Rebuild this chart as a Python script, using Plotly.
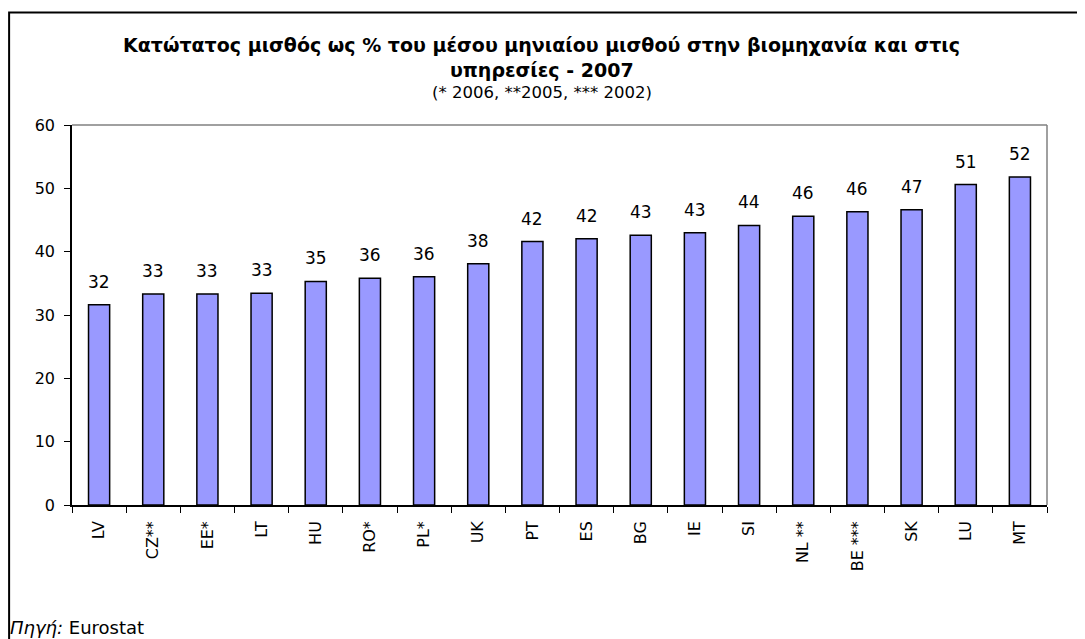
import plotly.graph_objects as go

countries = ['LV', 'CZ**', 'EE*', 'LT', 'HU', 'RO*', 'PL*', 'UK', 'PT',
             'ES', 'BG', 'IE', 'SI', 'NL **', 'BE ***', 'SK', 'LU', 'MT']
values = [31.6, 33.3, 33.3, 33.45, 35.3, 35.8, 36.05, 38.1, 41.6,
          42.05, 42.6, 43.0, 44.15, 45.6, 46.3, 46.6, 50.6, 51.8]
y_ticks = [0, 10, 20, 30, 40, 50, 60]

font_family = 'DejaVu Sans, Arial, sans-serif'

fig = go.Figure(go.Bar(
    x=countries, y=values,
    marker=dict(color='#9999FF', line=dict(color='black', width=1.5)),
    width=0.39,
    hoverinfo='x+y'
))

# value labels above the bars
for c, v in zip(countries, values):
    fig.add_annotation(x=c, y=v, text=f'{v:.0f}', showarrow=False,
                       yanchor='bottom', yshift=11,
                       font=dict(size=17, color='black', family=font_family))

# titles
fig.add_annotation(xref='paper', yref='paper', x=0.482, y=1.211, yanchor='middle',
                   text='<b>Κατώτατος μισθός ως % του μέσου μηνιαίου μισθού στην βιομηχανία και στις</b>',
                   showarrow=False, font=dict(size=19, color='black', family=font_family))
fig.add_annotation(xref='paper', yref='paper', x=0.482, y=1.145, yanchor='middle',
                   text='<b>υπηρεσίες - 2007</b>',
                   showarrow=False, font=dict(size=19, color='black', family=font_family))
fig.add_annotation(xref='paper', yref='paper', x=0.482, y=1.085, yanchor='middle',
                   text='(* 2006, **2005, *** 2002)',
                   showarrow=False, font=dict(size=16.5, color='black', family=font_family))
fig.add_annotation(xref='paper', yref='paper', x=-0.066, y=-0.323,
                   xanchor='left', yanchor='middle', text='<i>Πηγή:</i> Eurostat',
                   showarrow=False, font=dict(size=18, color='black', family=font_family))

# outer frame (left/top visible, rest outside the page)
fig.add_shape(type='rect', xref='paper', yref='paper',
              x0=-0.0645, y0=-0.6, x1=1.2, y1=1.296,
              line=dict(color='black', width=2))
# gray plot box on top and right
fig.add_shape(type='line', xref='paper', yref='paper', x0=0, y0=1, x1=1, y1=1,
              line=dict(color='#808080', width=1.5))
fig.add_shape(type='line', xref='paper', yref='paper', x0=1, y0=0, x1=1, y1=1,
              line=dict(color='#808080', width=1.5))

fig.update_layout(
    width=1077, height=631,
    margin=dict(l=64, r=38, t=117, b=134),
    paper_bgcolor='white', plot_bgcolor='white',
    showlegend=False,
    font=dict(family=font_family, size=16, color='black'),
    bargap=0.61,
    xaxis=dict(
        showline=True, linecolor='black', linewidth=1.5,
        ticks='outside', tickson='boundaries', ticklen=6, tickcolor='black',
        tickangle=-90, tickfont=dict(size=16), ticklabelstandoff=8,
        showgrid=False
    ),
    yaxis=dict(
        range=[0, 60], tickvals=y_ticks,
        showline=True, linecolor='black', linewidth=1.5,
        ticks='outside', ticklen=6, tickcolor='black',
        tickfont=dict(size=16), ticklabelstandoff=6,
        showgrid=False, zeroline=False
    )
)

fig.write_html('out.html')
